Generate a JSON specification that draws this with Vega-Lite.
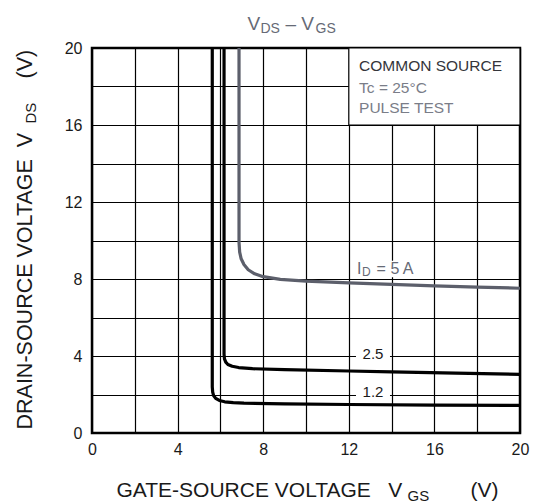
{
  "$schema": "https://vega.github.io/schema/vega-lite/v6.json",
  "width": 428,
  "height": 385,
  "autosize": {"type": "none"},
  "padding": {"left": 92, "top": 48, "right": 22, "bottom": 70},
  "background": "white",
  "config": {
    "view": {"stroke": "#000000", "strokeWidth": 2.5},
    "axis": {
      "labelFont": "Liberation Sans",
      "titleFont": "Liberation Sans",
      "titleFontWeight": "normal",
      "titleAlign": "left",
      "titleBaseline": "alphabetic",
      "titleColor": "#1a1a1a",
      "domain": false,
      "ticks": false,
      "grid": false,
      "labels": false
    },
    "text": {"font": "Liberation Sans"}
  },
  "datasets": {
    "labels": [
      {"vgs": 13.13, "vds": 4.08, "label": "2.5"},
      {"vgs": 13.13, "vds": 2.13, "label": "1.2"}
    ]
  },
  "resolve": {"axis": {"x": "independent", "y": "independent"}},
  "layer": [
    {
      "data": {
        "values": [
          {"id": "1.2", "vgs": 5.62, "vds": 20},
          {"id": "1.2", "vgs": 5.62, "vds": 2.4},
          {"id": "1.2", "vgs": 5.64, "vds": 2.12},
          {"id": "1.2", "vgs": 5.68, "vds": 1.95},
          {"id": "1.2", "vgs": 5.78, "vds": 1.8},
          {"id": "1.2", "vgs": 5.95, "vds": 1.69},
          {"id": "1.2", "vgs": 6.2, "vds": 1.62},
          {"id": "1.2", "vgs": 6.6, "vds": 1.58},
          {"id": "1.2", "vgs": 7.1, "vds": 1.55},
          {"id": "1.2", "vgs": 9, "vds": 1.51},
          {"id": "1.2", "vgs": 12, "vds": 1.48},
          {"id": "1.2", "vgs": 16, "vds": 1.45},
          {"id": "1.2", "vgs": 20, "vds": 1.43},
          {"id": "2.5", "vgs": 6.17, "vds": 20},
          {"id": "2.5", "vgs": 6.17, "vds": 4.1},
          {"id": "2.5", "vgs": 6.19, "vds": 3.85},
          {"id": "2.5", "vgs": 6.25, "vds": 3.68},
          {"id": "2.5", "vgs": 6.35, "vds": 3.56},
          {"id": "2.5", "vgs": 6.55, "vds": 3.47},
          {"id": "2.5", "vgs": 6.85, "vds": 3.4},
          {"id": "2.5", "vgs": 7.5, "vds": 3.34},
          {"id": "2.5", "vgs": 9, "vds": 3.29},
          {"id": "2.5", "vgs": 12, "vds": 3.22},
          {"id": "2.5", "vgs": 14, "vds": 3.18},
          {"id": "2.5", "vgs": 17, "vds": 3.11},
          {"id": "2.5", "vgs": 20, "vds": 3.05},
          {"id": "5", "vgs": 6.87, "vds": 20},
          {"id": "5", "vgs": 6.87, "vds": 9.9},
          {"id": "5", "vgs": 6.9, "vds": 9.4},
          {"id": "5", "vgs": 6.97, "vds": 9.05},
          {"id": "5", "vgs": 7.1, "vds": 8.75},
          {"id": "5", "vgs": 7.3, "vds": 8.48},
          {"id": "5", "vgs": 7.6, "vds": 8.27},
          {"id": "5", "vgs": 8, "vds": 8.12},
          {"id": "5", "vgs": 8.8, "vds": 7.98},
          {"id": "5", "vgs": 10, "vds": 7.89},
          {"id": "5", "vgs": 12, "vds": 7.8},
          {"id": "5", "vgs": 14, "vds": 7.72},
          {"id": "5", "vgs": 16, "vds": 7.64},
          {"id": "5", "vgs": 18, "vds": 7.58},
          {"id": "5", "vgs": 20, "vds": 7.52}
        ]
      },
      "mark": {"type": "line", "strokeWidth": 3.2, "strokeJoin": "round", "clip": true},
      "encoding": {
        "x": {
          "field": "vgs", "type": "quantitative",
          "scale": {"domain": [0, 20], "nice": false},
          "axis": {
            "orient": "bottom",
            "values": [0, 2, 4, 6, 8, 10, 12, 14, 16, 18, 20],
            "grid": true, "gridColor": "#000000", "gridWidth": 1.2,
            "labels": true,
            "labelExpr": "datum.value % 4 === 0 ? datum.label : ''",
            "labelFontSize": 16, "labelColor": "#1a1a1a", "labelPadding": 8,
            "labelFlush": false, "labelOverlap": false,
            "title": "GATE-SOURCE VOLTAGE\u00a0\u00a0\u00a0V",
            "titleFontSize": 21, "titleX": 24, "titleY": 63
          }
        },
        "y": {
          "field": "vds", "type": "quantitative",
          "scale": {"domain": [0, 20], "nice": false},
          "axis": {
            "orient": "left",
            "values": [0, 2, 4, 6, 8, 10, 12, 14, 16, 18, 20],
            "grid": true, "gridColor": "#000000", "gridWidth": 1.2,
            "labels": true,
            "labelExpr": "datum.value % 4 === 0 ? datum.label : ''",
            "labelFontSize": 16, "labelColor": "#1a1a1a", "labelPadding": 10,
            "labelFlush": false, "labelOverlap": false,
            "title": "DRAIN-SOURCE VOLTAGE\u00a0\u00a0V",
            "titleFontSize": 21.5, "titleAngle": 270, "titleX": -61, "titleY": 381
          }
        },
        "color": {
          "field": "id", "type": "nominal",
          "scale": {"domain": ["1.2", "2.5", "5"], "range": ["#000000", "#000000", "#5c5f6b"]},
          "legend": null
        },
        "order": {"field": "vds", "sort": "descending"}
      }
    },
    {
      "data": {"values": [{"x1": 12, "x2": 20, "y1": 16, "y2": 20}]},
      "mark": {"type": "rect", "fill": "#ffffff", "stroke": "#000000", "strokeWidth": 1.2},
      "encoding": {
        "x": {"field": "x1", "type": "quantitative", "scale": {"domain": [0, 20], "nice": false}, "axis": null},
        "x2": {"field": "x2"},
        "y": {"field": "y1", "type": "quantitative", "scale": {"domain": [0, 20], "nice": false}, "axis": null},
        "y2": {"field": "y2"}
      }
    },
    {
      "data": {"values": [{"vgs": 13.7, "vds": 8.52}]},
      "mark": {"type": "point", "shape": "M-1,-0.25H1V0.25H-1Z", "filled": true, "fill": "#ffffff", "opacity": 1, "strokeWidth": 0, "size": 4356},
      "encoding": {
        "x": {"field": "vgs", "type": "quantitative", "scale": {"domain": [0, 20], "nice": false}, "axis": null},
        "y": {"field": "vds", "type": "quantitative", "scale": {"domain": [0, 20], "nice": false}, "axis": null}
      }
    },
    {
      "data": {"name": "labels"},
      "mark": {"type": "point", "shape": "M-1,-0.41H1V0.41H-1Z", "filled": true, "fill": "#ffffff", "opacity": 1, "strokeWidth": 0, "size": 1156},
      "encoding": {
        "x": {
          "field": "vgs", "type": "quantitative",
          "scale": {"domain": [0, 20], "nice": false},
          "axis": {"orient": "bottom", "title": "GS", "titleFontSize": 15, "titleX": 315, "titleY": 67}
        },
        "y": {
          "field": "vds", "type": "quantitative",
          "scale": {"domain": [0, 20], "nice": false},
          "axis": {"orient": "left", "title": "DS", "titleFontSize": 15, "titleAngle": 270, "titleX": -57, "titleY": 75}
        }
      }
    },
    {
      "data": {"name": "labels"},
      "mark": {"type": "text", "fontSize": 15, "color": "#1a1a1a", "align": "center", "baseline": "middle"},
      "encoding": {
        "x": {
          "field": "vgs", "type": "quantitative",
          "scale": {"domain": [0, 20], "nice": false},
          "axis": {"orient": "bottom", "title": "(V)", "titleFontSize": 21, "titleX": 378, "titleY": 63}
        },
        "y": {
          "field": "vds", "type": "quantitative",
          "scale": {"domain": [0, 20], "nice": false},
          "axis": {"orient": "left", "title": "(V)", "titleFontSize": 21.5, "titleAngle": 270, "titleX": -61, "titleY": 30}
        },
        "text": {"field": "label"}
      }
    },
    {
      "data": {"values": [{"vgs": 12.38, "vds": 8.52, "t": "I"}]},
      "mark": {"type": "text", "fontSize": 16, "color": "#666a76", "align": "left", "baseline": "middle"},
      "encoding": {
        "x": {
          "field": "vgs", "type": "quantitative",
          "scale": {"domain": [0, 20], "nice": false},
          "axis": {"orient": "top", "title": "V", "titleFontSize": 19, "titleColor": "#666a76", "titleX": 155, "titleY": -19}
        },
        "y": {"field": "vds", "type": "quantitative", "scale": {"domain": [0, 20], "nice": false}, "axis": null},
        "text": {"field": "t"}
      }
    },
    {
      "data": {"values": [{"vgs": 12.62, "vds": 8.34, "t": "D"}]},
      "mark": {"type": "text", "fontSize": 12, "color": "#666a76", "align": "left", "baseline": "middle"},
      "encoding": {
        "x": {
          "field": "vgs", "type": "quantitative",
          "scale": {"domain": [0, 20], "nice": false},
          "axis": {"orient": "top", "title": "DS", "titleFontSize": 14, "titleColor": "#666a76", "titleX": 168, "titleY": -16}
        },
        "y": {"field": "vds", "type": "quantitative", "scale": {"domain": [0, 20], "nice": false}, "axis": null},
        "text": {"field": "t"}
      }
    },
    {
      "data": {"values": [{"vgs": 13.3, "vds": 8.52, "t": "= 5 A"}]},
      "mark": {"type": "text", "fontSize": 16, "color": "#666a76", "align": "left", "baseline": "middle"},
      "encoding": {
        "x": {
          "field": "vgs", "type": "quantitative",
          "scale": {"domain": [0, 20], "nice": false},
          "axis": {"orient": "top", "title": "– V", "titleFontSize": 19, "titleColor": "#666a76", "titleX": 193, "titleY": -19}
        },
        "y": {"field": "vds", "type": "quantitative", "scale": {"domain": [0, 20], "nice": false}, "axis": null},
        "text": {"field": "t"}
      }
    },
    {
      "data": {
        "values": [
          {"vgs": 12.48, "vds": 19.06, "t": "COMMON SOURCE"},
          {"vgs": 12.48, "vds": 17.92, "t": "Tc = 25°C"},
          {"vgs": 12.48, "vds": 16.88, "t": "PULSE TEST"}
        ]
      },
      "mark": {"type": "text", "fontSize": 15.5, "align": "left", "baseline": "middle"},
      "encoding": {
        "x": {
          "field": "vgs", "type": "quantitative",
          "scale": {"domain": [0, 20], "nice": false},
          "axis": {"orient": "top", "title": "GS", "titleFontSize": 14, "titleColor": "#666a76", "titleX": 223, "titleY": -16}
        },
        "y": {"field": "vds", "type": "quantitative", "scale": {"domain": [0, 20], "nice": false}, "axis": null},
        "color": {"condition": {"test": "datum.t === 'COMMON SOURCE'", "value": "#34353b"}, "value": "#7a7d88"},
        "text": {"field": "t"}
      }
    }
  ]
}
